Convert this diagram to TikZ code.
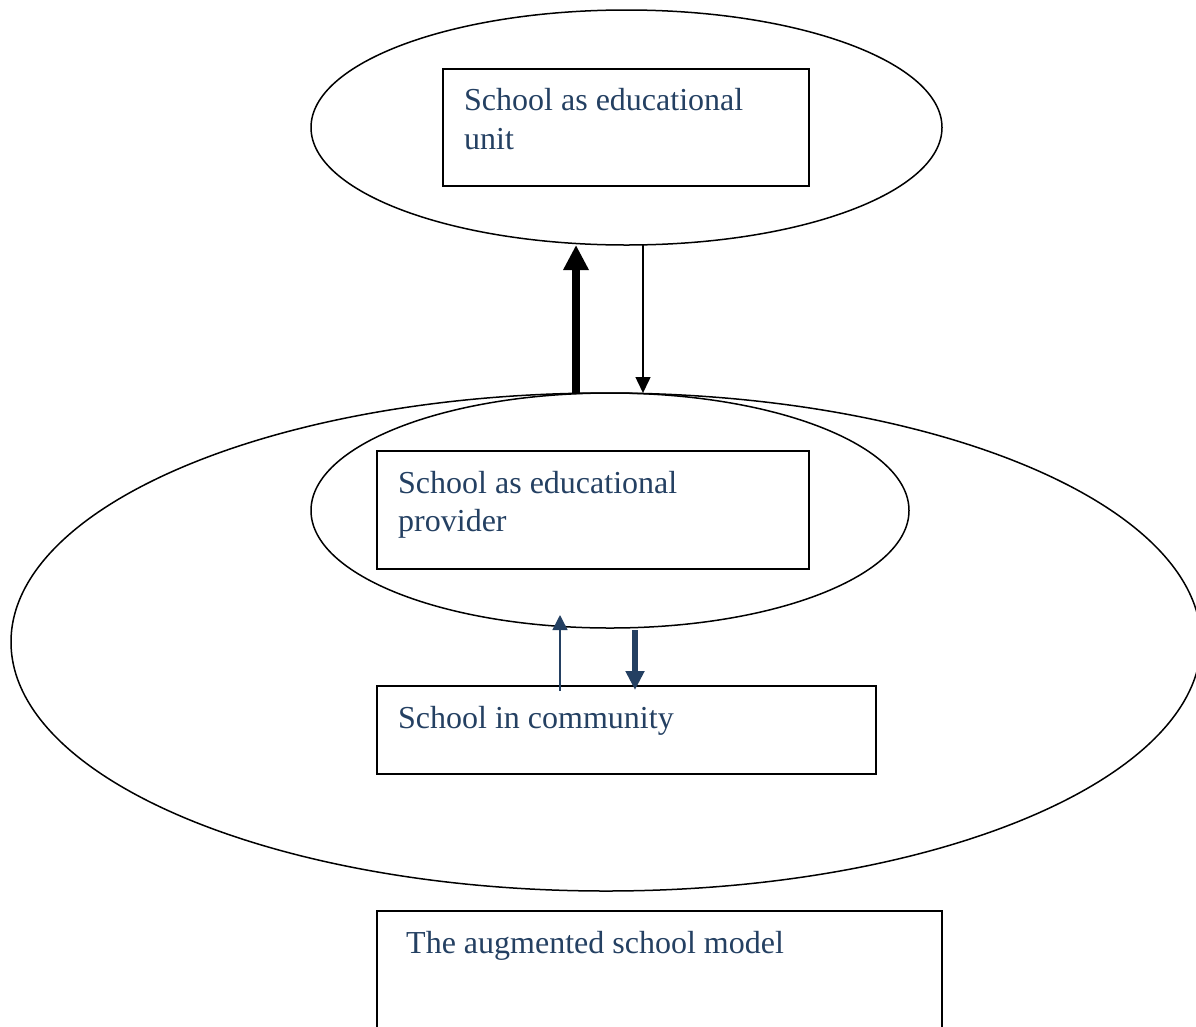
\documentclass[tikz,border=0pt]{standalone}
\usepackage{fontspec}
\setmainfont{Liberation Serif}
\usetikzlibrary{shapes.geometric,arrows.meta}
\definecolor{txtblue}{RGB}{36,64,98}
\begin{document}
\begin{tikzpicture}[x=1pt,y=-1pt,
  oval/.style={draw=black,line width=1.5pt,ellipse,inner sep=0pt},
  tbox/.style={draw=black,line width=1.8pt,rectangle,inner sep=0pt},
  lbl/.style={anchor=base west,inner sep=0pt,text=txtblue,font=\fontsize{32}{39}\selectfont}]
\useasboundingbox (0,0) rectangle (1196,1026);
\begin{scope}
\clip (0,0) rectangle (1196,1026);
% ellipses
\node[oval,minimum width=631,minimum height=235] (E1) at (626.5,127.5) {};
\node[oval,minimum width=1190,minimum height=498] (E2) at (606,642) {};
\node[oval,minimum width=598,minimum height=235] (E3) at (610,510.5) {};
% boxes
\node[tbox,minimum width=366,minimum height=117] (B1) at (626,127.5) {};
\node[tbox,minimum width=432,minimum height=118] (B2) at (593,510) {};
\node[tbox,minimum width=499,minimum height=88] (B3) at (626.5,730) {};
\node[tbox,minimum width=565,minimum height=160] (B4) at (659.5,991) {};
% labels
\node[lbl] (T1a) at (464,110) {School as educational};
\node[lbl] (T1b) at (464,149) {unit};
\node[lbl] (T2a) at (398,493) {School as educational};
\node[lbl] (T2b) at (398,531) {provider};
\node[lbl] (T3) at (398,728) {School in community};
\node[lbl] (T4) at (406,953) {The augmented school model};
\end{scope}
% arrow end points
\coordinate (a1s) at (576,393);
\coordinate (a1e) at (576,245);
\coordinate (a2s) at (643,245);
\coordinate (a2e) at (643,393);
\coordinate (a3s) at (560,691);
\coordinate (a3e) at (560,615);
\coordinate (a4s) at (635,630);
\coordinate (a4e) at (635,690);
% arrows
\draw[line width=8pt,-{Triangle[width=24pt,length=25pt]}] (a1s) -- (a1e);
\draw[line width=1.5pt,-{Triangle[width=15pt,length=16pt]}] (a2s) -- (a2e);
\draw[txtblue,line width=1.6pt,-{Triangle[width=15pt,length=15pt]}] (a3s) -- (a3e);
\draw[txtblue,line width=5.5pt,-{Triangle[width=18pt,length=19pt]}] (a4s) -- (a4e);
\end{tikzpicture}
\end{document}
